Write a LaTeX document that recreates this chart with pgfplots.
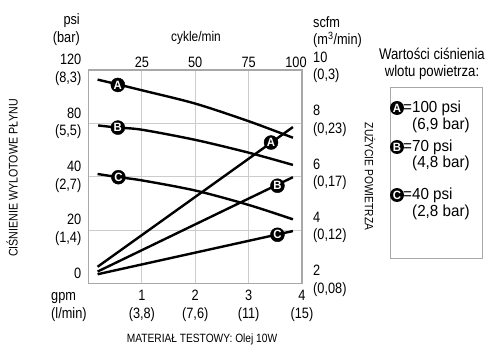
\documentclass[border=0pt]{standalone}
\usepackage{pgfplots}
\pgfplotsset{compat=1.18}
\usepackage{fontspec}
\setmainfont{Liberation Sans}[FakeStretch=0.85]
\newfontfamily\legfont{Liberation Sans}[FakeStretch=0.95]
\newcommand\tickfont{\fontsize{15}{17.5}\selectfont}
\newcommand\capfont{\fontsize{12.5}{14}\selectfont}
\newcommand\markfont{\legfont\fontsize{12}{12}\selectfont\bfseries}
\definecolor{framegray}{HTML}{A8A8A8}
\definecolor{gridgray}{HTML}{CCCCCC}
\begin{document}
\begin{tikzpicture}
\begin{axis}[at={(0,0)}, anchor=south west, scale only axis,
  width=213.5pt, height=213.3pt,
  xmin=0, xmax=4, ymin=0, ymax=4,
  xtick={1,2,3,4},
  xticklabels={{1\\(3,8)},{2\\(7,6)},{3\\(11)},{4\\(15)}},
  ytick={0,1,2,3,4},
  yticklabels={{0\\\phantom{(}},{20\\(1,4)},{40\\(2,7)},{80\\(5,5)},{120\\(8,3)}},
  major tick length=0pt,
  grid=major, grid style={gridgray, line width=0.9pt},
  axis line style={framegray, line width=1.3pt},
  xticklabel style={align=center, font=\tickfont, inner sep=0pt, anchor=north},
  xticklabel shift=7pt,
  yticklabel style={align=right, font=\tickfont, inner sep=0pt, anchor=east},
  yticklabel shift=7pt,
  clip=false]
% fluid outlet pressure curves
\addplot[black, line width=2.4pt, smooth] coordinates {(0.17,3.82) (0.55,3.73) (1.0,3.62) (2.0,3.37) (3.0,3.04) (3.83,2.73)};
\addplot[black, line width=2.4pt, smooth] coordinates {(0.18,2.96) (0.55,2.92) (1.0,2.88) (2.0,2.69) (3.0,2.45) (3.83,2.22)};
\addplot[black, line width=2.4pt, smooth] coordinates {(0.17,2.05) (0.56,1.99) (1.0,1.93) (2.0,1.74) (3.0,1.47) (3.83,1.20)};
% air consumption lines
\addplot[black, line width=2.4pt] coordinates {(0.17,0.31) (3.83,2.93)};
\addplot[black, line width=2.4pt] coordinates {(0.17,0.22) (3.83,1.99)};
\addplot[black, line width=2.4pt] coordinates {(0.17,0.17) (3.83,0.98)};
% labelled markers
\addplot[only marks, mark=*, mark size=7pt, black, nodes near coords={A},
  every node near coord/.style={anchor=center, text=white, font=\markfont}]
  coordinates {(0.55,3.72) (3.42,2.64)};
\addplot[only marks, mark=*, mark size=7pt, black, nodes near coords={B},
  every node near coord/.style={anchor=center, text=white, font=\markfont}]
  coordinates {(0.55,2.92) (3.54,1.83)};
\addplot[only marks, mark=*, mark size=7pt, black, nodes near coords={C},
  every node near coord/.style={anchor=center, text=white, font=\markfont}]
  coordinates {(0.56,1.99) (3.54,0.91)};
\end{axis}
\begin{axis}[at={(0,0)}, anchor=south west, scale only axis,
  width=213.5pt, height=213.3pt,
  xmin=0, xmax=4, ymin=0, ymax=4,
  axis x line*=top, axis y line*=right,
  axis line style={draw=none},
  xtick={1,2,3,4},
  xticklabels={25,50,75,{100\hspace*{12pt}}},
  ytick={0,1,2,3,4},
  yticklabels={{2\\(0,08)},{4\\(0,12)},{6\\(0,17)},{8\\(0,23)},{10\\(0,3)}},
  major tick length=0pt,
  xticklabel style={font=\tickfont, inner sep=0pt, anchor=south},
  xticklabel shift=2.5pt,
  yticklabel style={align=left, font=\tickfont, inner sep=0pt, anchor=west, yshift=2.5pt},
  yticklabel shift=11pt]
\addplot[draw=none] coordinates {(0,0) (4,4)};
\end{axis}
% unit labels
\node[anchor=east, align=right, font=\tickfont, inner sep=0pt] at (-8.5pt,253.8pt) {psi\\(bar)};
\node[anchor=center, font=\fontsize{14}{16}\selectfont, inner sep=0pt] at (107.5pt,245.3pt) {cykle/min};
\node[anchor=west, align=left, font=\tickfont, inner sep=0pt] at (224.5pt,251.3pt) {scfm\\(m\textsuperscript{3}/min)};
\node[anchor=west, align=left, font=\tickfont, inner sep=0pt] at (-37.5pt,-23.7pt) {gpm\\(l/min)};
% axis titles
\node[font=\fontsize{12}{14}\selectfont, inner sep=0pt] at (113.5pt,-55.7pt) {MATERIAŁ TESTOWY: Olej 10W};
\node[rotate=90, font=\capfont, inner sep=0pt] at (-76.5pt,105.3pt) {CIŚNIENIE WYLOTOWE PŁYNU};
\node[rotate=-90, font=\fontsize{12}{14}\selectfont, inner sep=0pt] at (281.5pt,106.8pt) {ZUŻYCIE POWIETRZA};
% legend
\node[align=center, font=\fontsize{15.5}{17.5}\selectfont, inner sep=0pt] at (343.5pt,219.3pt) {Wartości ciśnienia\\wlotu powietrza:};
\draw[framegray, line width=1pt] (301.5pt,25.3pt) rectangle (393.5pt,196.3pt);
\node[circle, fill=black, minimum size=14pt, inner sep=0pt, text=white, font=\markfont] at (308.5pt,175.3pt) {A};
\node[circle, fill=black, minimum size=14pt, inner sep=0pt, text=white, font=\markfont] at (308.5pt,136.3pt) {B};
\node[circle, fill=black, minimum size=14pt, inner sep=0pt, text=white, font=\markfont] at (308.5pt,88.3pt) {C};
\node[anchor=west, font=\legfont\fontsize{16}{17}\selectfont, inner sep=0pt] at (314.5pt,175.3pt) {=100 psi};
\node[anchor=west, font=\legfont\fontsize{16}{17}\selectfont, inner sep=0pt] at (323.5pt,158.3pt) {(6,9 bar)};
\node[anchor=west, font=\legfont\fontsize{16}{17}\selectfont, inner sep=0pt] at (314.5pt,136.3pt) {=70 psi};
\node[anchor=west, font=\legfont\fontsize{16}{17}\selectfont, inner sep=0pt] at (323.5pt,120.3pt) {(4,8 bar)};
\node[anchor=west, font=\legfont\fontsize{16}{17}\selectfont, inner sep=0pt] at (314.5pt,88.3pt) {=40 psi};
\node[anchor=west, font=\legfont\fontsize{16}{17}\selectfont, inner sep=0pt] at (323.5pt,71.3pt) {(2,8 bar)};
\pgfresetboundingbox
\path[use as bounding box] (-88.5pt,-62.7pt) rectangle (399.5pt,283.3pt);
\end{tikzpicture}
\end{document}
